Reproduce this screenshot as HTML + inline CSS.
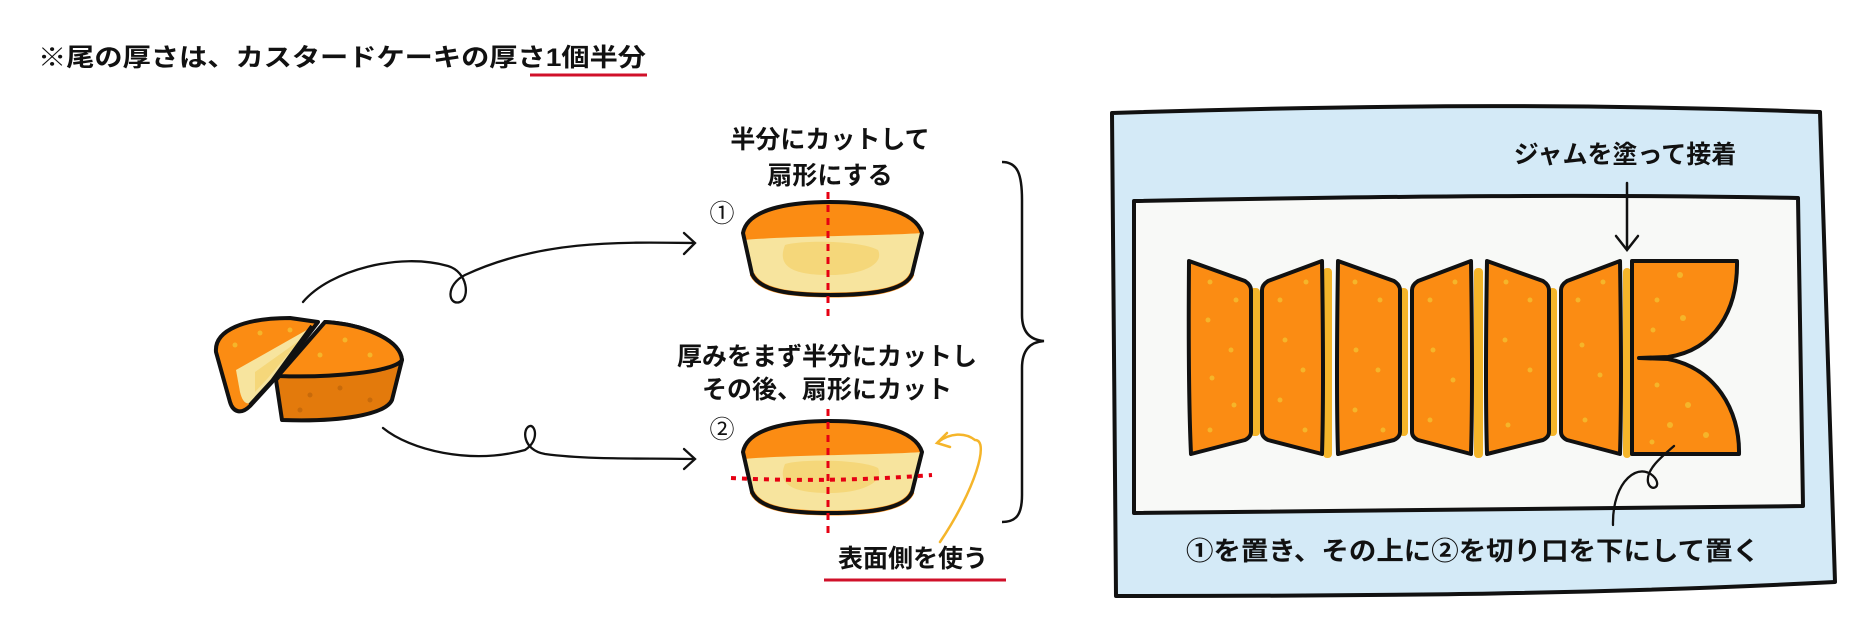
<!DOCTYPE html>
<html><head><meta charset="utf-8"><style>
html,body{margin:0;padding:0;background:#fff;}
svg{display:block;}
text{font-family:"Liberation Sans","Noto Sans CJK JP",sans-serif;font-weight:bold;fill:#111;}
</style></head><body>
<svg width="1860" height="620" viewBox="0 0 1860 620" xmlns="http://www.w3.org/2000/svg">
<!-- title -->
<text x="38" y="66" font-size="25" textLength="608" lengthAdjust="spacingAndGlyphs">※尾の厚さは、カスタードケーキの厚さ1個半分</text>
<line x1="530" y1="75" x2="647" y2="75" stroke="#d0102a" stroke-width="3"/>

<!-- big cake -->
<g stroke-linejoin="round">
  <path d="M216,352 C214,330 245,318 290,318 L318,322 L272,382 L250,406 C241,415 233,412 230,402 Z" fill="#fb8c13" stroke="#111" stroke-width="4"/>
  <path d="M236,370 L312,327 L272,380 L251,403 C245,405 242,400 240,392 Z" fill="#f7e49e"/>
  <path d="M255,372 L300,340 L268,378 L255,392 Z" fill="#f5d77a"/>
  <path d="M312,326 L272,381 L250,405" fill="none" stroke="#111" stroke-width="4"/>
  <path d="M325,322 C360,324 400,338 402,360 L392,400 C385,415 340,422 282,420 L276,380 Z" fill="#e37a0c" stroke="#111" stroke-width="4"/>
  <path d="M325,322 C360,324 400,338 402,360 C395,372 330,378 278,376 Z" fill="#fb8c13" stroke="#111" stroke-width="4"/>
</g>
<g fill="#f5b52a">
  <circle cx="260" cy="333" r="2.5"/><circle cx="290" cy="330" r="2.5"/><circle cx="345" cy="340" r="2.5"/><circle cx="370" cy="355" r="2.5"/><circle cx="320" cy="355" r="2.5"/><circle cx="235" cy="345" r="2.5"/>
</g>
<g fill="#c86a0a">
  <circle cx="310" cy="395" r="2.5"/><circle cx="340" cy="388" r="2.5"/><circle cx="370" cy="400" r="2.5"/><circle cx="300" cy="410" r="2.5"/>
</g>

<!-- curvy arrows -->
<g fill="none" stroke="#111" stroke-width="2.3" stroke-linecap="round">
  <path d="M303,302 C330,270 400,252 448,266 C468,272 470,298 460,302 C448,306 445,285 465,275 C540,240 620,242 694,243"/>
  <path d="M684,233 L695,243 L684,254"/>
  <path d="M383,428 C410,450 470,465 525,450 C540,440 535,425 530,426 C522,428 522,450 545,454 C590,460 640,458 694,459"/>
  <path d="M684,449 L695,459 L684,469"/>
</g>

<!-- captions -->
<text x="830" y="148" font-size="25" text-anchor="middle">半分にカットして</text>
<text x="830" y="184" font-size="25" text-anchor="middle">扇形にする</text>
<text x="827" y="365" font-size="25" text-anchor="middle">厚みをまず半分にカットし</text>
<text x="827" y="398" font-size="25" text-anchor="middle">その後、扇形にカット</text>
<text x="722" y="222" font-size="25" text-anchor="middle" style="font-weight:normal">①</text>
<text x="722" y="438" font-size="25" text-anchor="middle" style="font-weight:normal">②</text>

<!-- cake 1 -->
<g stroke-linejoin="round">
  <path d="M743,233 C748,206 800,202 830,202 C872,202 915,210 922,233 L912,274 C905,291 870,295 830,295 C790,295 760,291 752,274 Z" fill="#f7e49e"/>
  <path d="M743,233 C748,206 800,202 830,202 C872,202 915,210 922,233 C880,236 790,236 743,240 Z" fill="#fb8c13"/>
  <path d="M785,245 C800,240 860,240 878,250 C885,265 860,275 830,275 C800,275 775,270 785,245 Z" fill="#f5d77a"/>
  <path d="M752,274 C760,291 790,295 830,295 C870,295 905,291 912,274" fill="none" stroke="#fb8c13" stroke-width="5"/>
  <path d="M743,233 C748,206 800,202 830,202 C872,202 915,210 922,233 L912,274 C905,291 870,295 830,295 C790,295 760,291 752,274 Z" fill="none" stroke="#111" stroke-width="4"/>
</g>
<line x1="828" y1="192" x2="828" y2="316" stroke="#e60012" stroke-width="3" stroke-dasharray="7,6"/>

<!-- cake 2 -->
<g stroke-linejoin="round">
  <path d="M743,452 C748,425 800,421 830,421 C872,421 915,429 922,452 L912,492 C905,509 870,513 830,513 C790,513 760,509 752,492 Z" fill="#f7e49e"/>
  <path d="M743,452 C748,425 800,421 830,421 C872,421 915,429 922,452 C880,455 790,455 743,459 Z" fill="#fb8c13"/>
  <path d="M785,464 C800,459 860,459 878,468 C885,483 860,493 830,493 C800,493 775,488 785,464 Z" fill="#f5d77a"/>
  <path d="M752,492 C760,509 790,513 830,513 C870,513 905,509 912,492" fill="none" stroke="#fb8c13" stroke-width="5"/>
  <path d="M743,452 C748,425 800,421 830,421 C872,421 915,429 922,452 L912,492 C905,509 870,513 830,513 C790,513 760,509 752,492 Z" fill="none" stroke="#111" stroke-width="4"/>
</g>
<line x1="828" y1="409" x2="828" y2="535" stroke="#e60012" stroke-width="3" stroke-dasharray="7,6"/>
<path d="M731,478 Q830,483 932,475" fill="none" stroke="#e60012" stroke-width="4" stroke-dasharray="5,6"/>

<!-- yellow arrow -->
<g fill="none" stroke="#f5b52a" stroke-width="2.5" stroke-linecap="round">
  <path d="M940,542 C975,490 990,440 975,440 C965,432 950,433 938,442"/>
  <path d="M947,433 L937,443 L950,447"/>
</g>
<text x="913" y="567" font-size="25" text-anchor="middle">表面側を使う</text>
<line x1="824" y1="580" x2="1006" y2="580" stroke="#d0102a" stroke-width="3"/>

<!-- brace -->
<path d="M1002,162 C1018,162 1022,175 1022,200 L1022,315 C1022,332 1030,340 1044,341 C1030,342 1022,350 1022,368 L1022,495 C1022,515 1016,522 1002,522" fill="none" stroke="#111" stroke-width="2.5"/>

<!-- blue panel -->
<path d="M1112,113 C1400,104 1600,104 1820,112 L1835,582 C1600,594 1400,596 1116,596 Z" fill="#d4eaf7" stroke="#111" stroke-width="4" stroke-linejoin="round"/>
<path d="M1134,201 C1400,196 1600,194 1798,198 L1803,506 C1600,509 1400,511 1134,513 Z" fill="#f8f9f7" stroke="#111" stroke-width="4" stroke-linejoin="round"/>

<text x="1625" y="163" font-size="25" text-anchor="middle">ジャムを塗って接着</text>
<g fill="none" stroke="#111" stroke-width="2.5" stroke-linecap="round">
  <line x1="1627" y1="183" x2="1627" y2="249"/>
  <path d="M1616,236 L1627,250 L1638,236"/>
</g>

<!-- jam strips -->
<g fill="#f5b52a">
  <rect x="1250" y="288" width="10" height="148" rx="4"/>
  <rect x="1323" y="268" width="9" height="190" rx="4"/>
  <rect x="1399" y="288" width="9" height="148" rx="4"/>
  <rect x="1474" y="268" width="9" height="190" rx="4"/>
  <rect x="1548" y="288" width="9" height="148" rx="4"/>
  <rect x="1623" y="268" width="8" height="190" rx="4"/>
</g>
<!-- pieces -->
<g fill="#fb8c13" stroke="#111" stroke-width="4" stroke-linejoin="round">
  <path d="M1189,261 L1245,281 Q1251,285 1251,290 L1251,432 Q1251,437 1245,440 L1191,454 Q1188,390 1189,261 Z"/>
  <path d="M1322,261 L1268,281 Q1262,285 1262,290 L1262,432 Q1262,437 1268,440 L1322,454 Q1324,390 1322,261 Z"/>
  <path d="M1338,261 L1394,281 Q1400,285 1400,290 L1400,432 Q1400,437 1394,440 L1338,454 Q1336,390 1338,261 Z"/>
  <path d="M1471,261 L1418,281 Q1412,285 1412,290 L1412,432 Q1412,437 1418,440 L1471,454 Q1473,390 1471,261 Z"/>
  <path d="M1487,261 L1543,281 Q1549,285 1549,290 L1549,432 Q1549,437 1543,440 L1487,454 Q1485,390 1487,261 Z"/>
  <path d="M1620,261 L1567,281 Q1561,285 1561,290 L1561,432 Q1561,437 1567,440 L1620,454 Q1622,390 1620,261 Z"/>
  <path d="M1632,261 L1737,261 C1738,310 1715,350 1668,357 L1639,358 L1668,359 C1715,368 1740,410 1739,454 L1632,454 Z"/>
</g>
<g fill="#f5b52a">
  <circle cx="1210" cy="282" r="2.5"/><circle cx="1236" cy="300" r="2.5"/><circle cx="1208" cy="320" r="2.5"/><circle cx="1231" cy="350" r="2.5"/><circle cx="1212" cy="378" r="2.5"/><circle cx="1234" cy="405" r="2.5"/><circle cx="1210" cy="430" r="2.5"/>
  <circle cx="1280" cy="300" r="2.5"/><circle cx="1306" cy="282" r="2.5"/><circle cx="1285" cy="340" r="2.5"/><circle cx="1303" cy="370" r="2.5"/><circle cx="1280" cy="400" r="2.5"/><circle cx="1305" cy="430" r="2.5"/>
  <circle cx="1355" cy="282" r="2.5"/><circle cx="1380" cy="300" r="2.5"/><circle cx="1356" cy="350" r="2.5"/><circle cx="1378" cy="370" r="2.5"/><circle cx="1355" cy="410" r="2.5"/><circle cx="1383" cy="430" r="2.5"/>
  <circle cx="1430" cy="300" r="2.5"/><circle cx="1455" cy="282" r="2.5"/><circle cx="1433" cy="350" r="2.5"/><circle cx="1453" cy="380" r="2.5"/><circle cx="1430" cy="420" r="2.5"/>
  <circle cx="1506" cy="282" r="2.5"/><circle cx="1530" cy="300" r="2.5"/><circle cx="1505" cy="340" r="2.5"/><circle cx="1530" cy="370" r="2.5"/><circle cx="1508" cy="425" r="2.5"/>
  <circle cx="1578" cy="300" r="2.5"/><circle cx="1603" cy="282" r="2.5"/><circle cx="1582" cy="345" r="2.5"/><circle cx="1600" cy="375" r="2.5"/><circle cx="1585" cy="420" r="2.5"/>
  <circle cx="1680" cy="275" r="3"/><circle cx="1657" cy="300" r="2.5"/><circle cx="1683" cy="318" r="3"/><circle cx="1653" cy="330" r="2.5"/><circle cx="1657" cy="385" r="2.5"/><circle cx="1688" cy="405" r="3"/><circle cx="1670" cy="425" r="3"/><circle cx="1706" cy="435" r="3"/><circle cx="1652" cy="442" r="2.5"/>
</g>

<!-- pointer line -->
<g fill="none" stroke="#111" stroke-width="2.3" stroke-linecap="round">
  <path d="M1613,525 C1612,480 1640,460 1655,478 C1662,488 1650,492 1648,482 C1646,470 1660,458 1674,446"/>
</g>
<text x="1473" y="560" font-size="26" text-anchor="middle" textLength="574" lengthAdjust="spacingAndGlyphs">①を置き、その上に②を切り口を下にして置く</text>
</svg>
</body></html>
